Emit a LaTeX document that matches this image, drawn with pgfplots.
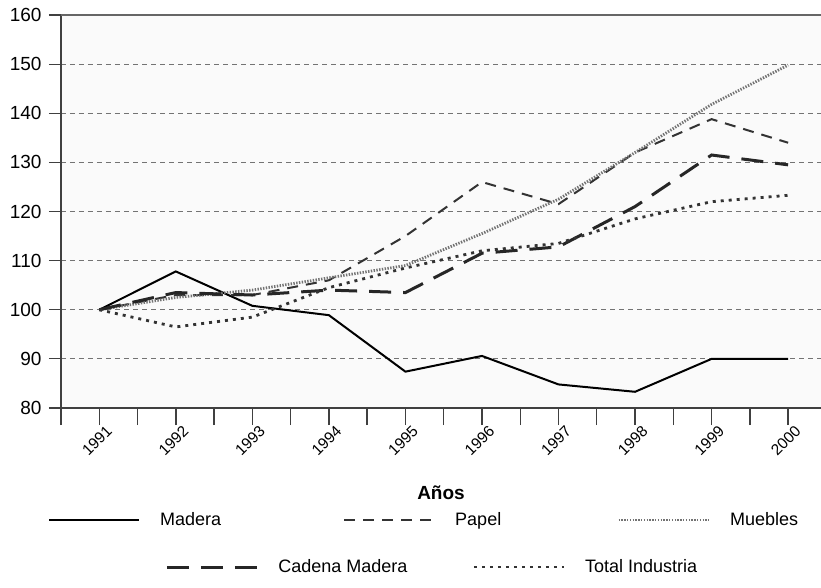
\documentclass[border=0pt]{standalone}
\usepackage{fontspec}
\setmainfont{Liberation Sans}
\usepackage{pgfplots}
\usepackage{pgfplotstable}
\pgfplotsset{compat=1.18}

\pgfplotstableread{
x Madera Papel Muebles Cadena Total
0 100   100   100   100   100
1 107.8 103   102.5 103.5 96.5
2 100.8 103   104   103   98.5
3 98.9  106   106.5 104   104.5
4 87.4  115   109   103.5 108.5
5 90.6  126   115.5 111.5 112
6 84.8  121.5 122.5 112.8 113.5
7 83.3  132   132   121   118.5
8 90    138.8 141.8 131.5 122
9 90    134   149.8 129.5 123.3
}\datatable

\begin{document}
\begin{tikzpicture}
\useasboundingbox (-61pt,-179pt) rectangle (760pt,408pt);
\begin{axis}[
  scale only axis, width=760pt, height=393pt,
  xmin=-0.5, xmax=9.43, ymin=80, ymax=160,
  clip=false,
  axis lines*=left,
  axis line style={draw=black!75, line width=1.6pt},
  axis background/.style={fill=black!2},
  /pgf/number format/assume math mode=true,
  tick align=outside,
  xtick={-0.5,0.5,...,8.5},
  xticklabels={},
  xtick style={/pgfplots/major tick length=17pt, draw=black!75, line width=1.4pt},
  extra x ticks={0,1,2,3,4,5,6,7,8,9},
  extra x tick labels={1991,1992,1993,1994,1995,1996,1997,1998,1999,2000},
  extra x tick style={/pgfplots/major tick length=0pt, grid=none,
     xticklabel style={xshift=10pt, yshift=-20pt, rotate=45, anchor=east, inner sep=0pt,
     font=\fontsize{15.5}{15.5}\selectfont}},
  ytick={80,90,...,150},
  extra y ticks={160},
  extra y tick style={grid style={solid, draw=black!60, line width=1.4pt}},
  ytick style={/pgfplots/major tick length=12pt, draw=black!75, line width=1.2pt},
  yticklabel style={font=\fontsize{19}{19}\selectfont, inner sep=0pt, xshift=-15pt},
  ymajorgrids,
  grid style={draw=black!55, line width=0.9pt, dash pattern=on 5pt off 4pt},
  xlabel={Años},
  xlabel style={at={(axis description cs:0.5,-0.216)}, anchor=center,
     font=\fontsize{19}{19}\selectfont\bfseries},
  legend image code/.code={\draw[#1] (0pt,0pt) -- (90pt,0pt);},
  legend columns=3,
  legend cell align=left,
  legend style={draw=none, fill=none, inner sep=0pt,
     at={(axis description cs:-0.0171,-0.285)}, anchor=west,
     font=\fontsize{18}{18}\selectfont,
     nodes={inner sep=0pt},
     /tikz/column 1/.style={column sep=20pt},
     /tikz/column 2/.style={column sep=122pt},
     /tikz/column 3/.style={column sep=20pt},
     /tikz/column 4/.style={column sep=116pt},
     /tikz/column 5/.style={column sep=20pt}},
]
\addplot[black, line width=2pt] table[x=x, y=Madera] {\datatable};
\addlegendentry{Madera}
\addplot[black!80, line width=2pt, dash pattern=on 11pt off 8pt] table[x=x, y=Papel] {\datatable};
\addlegendentry{Papel}
\addplot[black!55, line width=2.8pt, dash pattern=on 1.4pt off 1.4pt] table[x=x, y=Muebles] {\datatable};
\addlegendentry{Muebles}
\addplot[black!85, line width=3pt, dash pattern=on 22pt off 12pt, forget plot] table[x=x, y=Cadena] {\datatable};
\addplot[black!80, line width=2.8pt, dash pattern=on 3pt off 5pt, forget plot] table[x=x, y=Total] {\datatable};
\end{axis}
\begin{axis}[
  scale only axis, width=760pt, height=393pt,
  xmin=-0.5, xmax=9.43, ymin=80, ymax=160,
  hide axis,
  legend image code/.code={\draw[#1] (0pt,0pt) -- (90pt,0pt);},
  legend columns=2,
  legend cell align=left,
  legend style={draw=none, fill=none, inner sep=0pt,
     at={(axis description cs:0.137,-0.4046)}, anchor=west,
     font=\fontsize{18}{18}\selectfont,
     nodes={inner sep=0pt},
     /tikz/column 1/.style={column sep=20pt},
     /tikz/column 2/.style={column sep=65pt},
     /tikz/column 3/.style={column sep=20pt}},
]
\addlegendimage{black!85, line width=3pt, dash pattern=on 22pt off 12pt}
\addlegendentry{Cadena Madera}
\addlegendimage{black!80, line width=2.8pt, dash pattern=on 3pt off 5pt}
\addlegendentry{Total Industria}
\end{axis}
\end{tikzpicture}
\end{document}
